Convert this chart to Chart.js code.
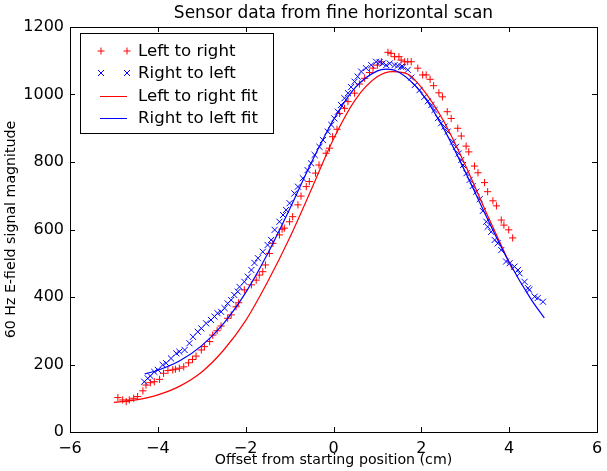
<!DOCTYPE html>
<html><head><meta charset="utf-8">
<script src="https://cdn.jsdelivr.net/npm/chart.js@4"></script>
<style>html,body{margin:0;padding:0;background:#fff}#wrap{width:607px;height:471px}</style>
</head><body><div id="wrap"><canvas id="c" width="607" height="471"></canvas></div>
<script>
const chartTitle = 'Sensor data from fine horizontal scan';
const xLabel = 'Offset from starting position (cm)';
const yLabel = '60 Hz E-field signal magnitude';
const seriesNames = ['Left to right', 'Right to left', 'Left to right fit', 'Right to left fit'];
const xTicks = [-6, -4, -2, 0, 2, 4, 6];
const yTicks = [0, 200, 400, 600, 800, 1000, 1200];

const ltrX = [-4.91,-4.80,-4.72,-4.65,-4.55,-4.46,-4.34,-4.27,-4.17,-4.08,-3.96,-3.87,-3.77,-3.66,-3.60,-3.51,-3.41,-3.30,-3.21,-3.13,-3.01,-2.94,-2.82,-2.75,-2.65,-2.56,-2.41,-2.33,-2.22,-2.16,-2.03,-1.87,-1.76,-1.69,-1.61,-1.55,-1.46,-1.38,-1.23,-1.17,-1.12,-1.00,-0.93,-0.81,-0.74,-0.62,-0.55,-0.41,-0.33,-0.17,-0.09,-0.02,0.08,0.14,0.25,0.33,0.48,0.59,0.71,0.82,0.90,1.00,1.09,1.24,1.31,1.39,1.49,1.54,1.62,1.69,1.77,1.92,2.03,2.11,2.20,2.28,2.40,2.48,2.59,2.68,2.83,2.91,3.02,3.08,3.21,3.29,3.44,3.51,3.63,3.71,3.82,3.88,3.99,4.08];
const ltrY = [102,95,90,95,100,105,122,139,146,149,156,174,182,184,186,189,193,205,215,225,243,253,268,287,300,314,337,347,371,383,421,436,450,465,475,495,529,559,584,601,604,623,638,673,699,727,742,767,791,826,841,875,897,944,959,979,1004,1031,1048,1065,1078,1087,1097,1125,1122,1112,1112,1102,1097,1097,1097,1078,1058,1058,1045,1026,1005,993,949,929,900,877,847,830,788,768,739,712,685,670,628,613,599,575];

const rtlX = [-4.31,-4.23,-4.17,-4.08,-4.00,-3.89,-3.81,-3.70,-3.58,-3.51,-3.39,-3.28,-3.20,-3.09,-3.01,-2.90,-2.79,-2.71,-2.64,-2.56,-2.48,-2.41,-2.33,-2.26,-2.18,-2.14,-2.03,-1.95,-1.87,-1.80,-1.72,-1.61,-1.50,-1.42,-1.34,-1.23,-1.15,-1.08,-1.00,-0.89,-0.81,-0.70,-0.59,-0.51,-0.43,-0.32,-0.24,-0.13,-0.05,0.02,0.10,0.17,0.25,0.33,0.40,0.48,0.55,0.63,0.74,0.86,0.97,1.05,1.12,1.20,1.28,1.39,1.46,1.54,1.58,1.69,1.77,1.85,1.96,2.07,2.15,2.23,2.30,2.38,2.45,2.53,2.60,2.72,2.79,2.85,2.91,2.95,3.03,3.10,3.17,3.25,3.33,3.40,3.48,3.51,3.59,3.67,3.74,3.82,3.93,4.01,4.12,4.20,4.24,4.35,4.43,4.46,4.58,4.65,4.77];
const rtlY = [149,159,166,178,184,199,204,218,233,238,243,263,282,297,307,322,332,342,352,356,367,381,391,406,416,430,445,460,480,501,515,534,554,569,599,623,643,658,678,707,727,752,776,796,821,845,865,890,910,929,949,969,989,1004,1022,1038,1053,1068,1078,1087,1097,1096,1092,1087,1092,1087,1085,1082,1082,1073,1050,1028,1013,993,980,969,954,930,915,905,890,860,845,825,806,791,767,747,729,712,690,655,623,608,593,569,559,539,505,500,490,480,470,445,426,421,401,397,386];

const ltrFitX = [-5.0,-4.5,-4.0,-3.5,-3.0,-2.5,-2.0,-1.5,-1.0,-0.5,0.0,0.5,1.0,1.35,1.7,2.0,2.5,3.0,3.5,4.08];
const ltrFitY = [88,95,110,136,178,243,330,445,575,720,868,985,1053,1068,1060,1021,923,791,644,480];
const rtlFitX = [-4.3,-4.0,-3.5,-3.0,-2.5,-2.0,-1.5,-1.0,-0.5,0.0,0.5,1.0,1.2,1.5,2.0,2.5,3.0,3.5,4.0,4.5,4.8];
const rtlFitY = [172,183,211,256,322,413,528,660,799,925,1021,1070,1075,1065,1005,901,771,633,503,393,338];

const pts = (xs, ys) => xs.map((v, i) => ({x: v, y: ys[i]}));
const FONT = "'DejaVu Sans', sans-serif";
const RED = '#ff0000', BLUE = '#0000ff';

const frameTicks = {
  id: 'frameTicks',
  afterDatasetsDraw(chart) {
    const {ctx, chartArea: a, scales: {x, y}} = chart;
    ctx.save();
    ctx.strokeStyle = '#000';
    ctx.lineWidth = 1;
    ctx.beginPath();
    const L = 5;
    xTicks.forEach(v => {
      const px = Math.round(x.getPixelForValue(v)) + 0.5;
      ctx.moveTo(px, a.bottom); ctx.lineTo(px, a.bottom - L);
      ctx.moveTo(px, a.top); ctx.lineTo(px, a.top + L);
    });
    yTicks.forEach(v => {
      const py = Math.round(y.getPixelForValue(v)) + 0.5;
      ctx.moveTo(a.left, py); ctx.lineTo(a.left + L, py);
      ctx.moveTo(a.right, py); ctx.lineTo(a.right - L, py);
    });
    ctx.stroke();
    ctx.strokeRect(Math.round(a.left) + 0.5, Math.round(a.top) + 0.5, Math.round(a.right - a.left), Math.round(a.bottom - a.top));
    ctx.fillStyle = '#000';
    ctx.font = '17px ' + FONT;
    ctx.textAlign = 'center';
    ctx.textBaseline = 'middle';
    ctx.fillText(chartTitle, (a.left + a.right) / 2, 14);
    ctx.restore();
  },
  afterDraw(chart) {
    const ctx = chart.ctx;
    ctx.save();
    const bx = 80.5, by = 33.5, bw = 193, bh = 100;
    ctx.fillStyle = '#fff';
    ctx.fillRect(bx, by, bw, bh);
    ctx.strokeStyle = '#000';
    ctx.lineWidth = 1;
    ctx.strokeRect(bx, by, bw, bh);
    const rows = [51, 73, 95.5, 117.5];
    const m1 = 101, m2 = 127;
    ctx.font = '16.6px ' + FONT;
    ctx.textBaseline = 'middle';
    chart.data.datasets.forEach((ds, i) => {
      const yy = rows[i];
      ctx.strokeStyle = ds.borderColor;
      ctx.lineWidth = 1;
      ctx.beginPath();
      if (i === 0) {
        [m1, m2].forEach(cx => { ctx.moveTo(cx - 3.5, yy); ctx.lineTo(cx + 3.5, yy); ctx.moveTo(cx, yy - 3.5); ctx.lineTo(cx, yy + 3.5); });
      } else if (i === 1) {
        [m1, m2].forEach(cx => { ctx.moveTo(cx - 3, yy - 3); ctx.lineTo(cx + 3, yy + 3); ctx.moveTo(cx - 3, yy + 3); ctx.lineTo(cx + 3, yy - 3); });
      } else {
        ctx.moveTo(100, Math.round(yy) + 0.5); ctx.lineTo(127, Math.round(yy) + 0.5);
      }
      ctx.stroke();
      ctx.fillStyle = '#000';
      ctx.fillText(ds.label, 138, yy + 1);
    });
    ctx.restore();
  }
};

const fmt = v => (v < 0 ? '\u2212' + Math.abs(v) : String(v));

new Chart(document.getElementById('c'), {
  type: 'scatter',
  data: {
    datasets: [
      {label: seriesNames[0], data: pts(ltrX, ltrY), pointStyle: 'cross', pointRadius: 3.6, borderColor: RED, backgroundColor: RED, pointBorderWidth: 1, showLine: false, order: 3},
      {label: seriesNames[1], data: pts(rtlX, rtlY), pointStyle: 'crossRot', pointRadius: 4.3, borderColor: BLUE, backgroundColor: BLUE, pointBorderWidth: 1, showLine: false, order: 2},
      {label: seriesNames[2], data: pts(ltrFitX, ltrFitY), showLine: true, pointRadius: 0, borderColor: RED, borderWidth: 1.2, cubicInterpolationMode: 'monotone', order: 1},
      {label: seriesNames[3], data: pts(rtlFitX, rtlFitY), showLine: true, pointRadius: 0, borderColor: BLUE, borderWidth: 1.2, cubicInterpolationMode: 'monotone', order: 0}
    ]
  },
  options: {
    responsive: false,
    animation: false,
    devicePixelRatio: 1,
    events: [],
    layout: {padding: {top: 27, right: 10, left: 0, bottom: 0}},
    plugins: {
      legend: {display: false},
      tooltip: {enabled: false},
      title: {display: false}
    },
    scales: {
      x: {
        type: 'linear', min: -6, max: 6,
        afterBuildTicks: s => { s.ticks = xTicks.map(v => ({value: v})); },
        afterFit: s => { s.height = 39; },
        grid: {display: false, drawTicks: false},
        border: {display: false},
        ticks: {color: '#000', padding: 4, maxRotation: 0, autoSkip: false, font: {family: FONT, size: 16, lineHeight: 1.65}, callback: v => fmt(v)},
        title: {display: true, text: xLabel, color: '#000', font: {family: FONT, size: 14.2}, padding: {top: 0, bottom: 2}}
      },
      y: {
        type: 'linear', min: 0, max: 1200,
        afterBuildTicks: s => { s.ticks = yTicks.map(v => ({value: v})); },
        afterFit: s => { s.width = 70; },
        grid: {display: false, drawTicks: false},
        border: {display: false},
        ticks: {color: '#000', padding: 6, autoSkip: false, font: {family: FONT, size: 16}, callback: v => fmt(v)},
        title: {display: true, text: yLabel, color: '#000', font: {family: FONT, size: 14.2}, padding: {top: 3, bottom: 0}}
      }
    }
  },
  plugins: [frameTicks]
});
</script>
</body></html>
